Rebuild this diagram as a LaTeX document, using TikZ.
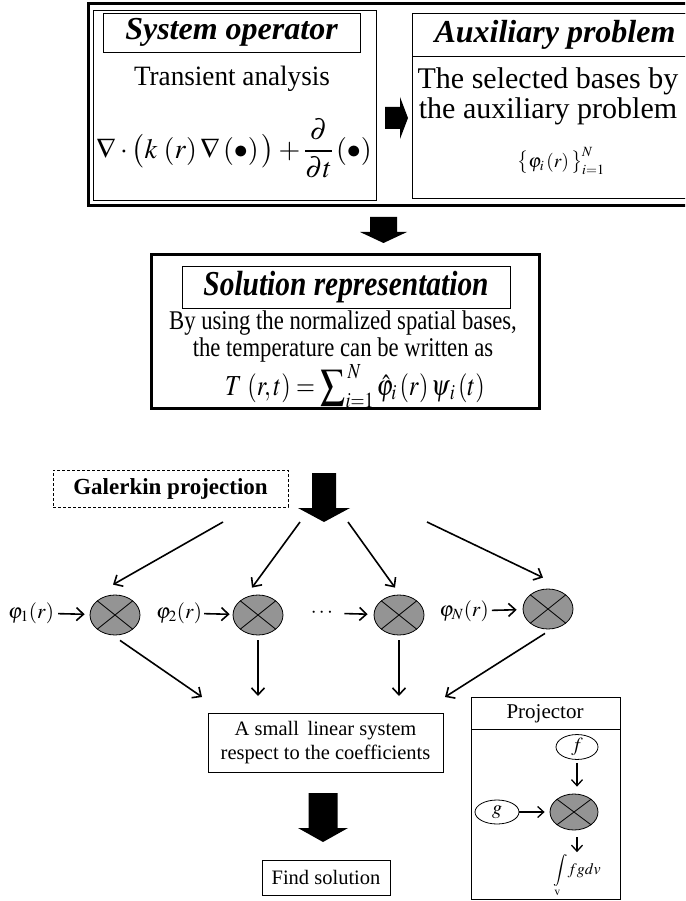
\documentclass[tikz,border=0pt]{standalone}
\usepackage{amsmath}
\usepackage{mathptmx}
\usepackage[no-math]{fontspec}
\setmainfont{Liberation Serif}
\usepackage{graphicx}
\usetikzlibrary{arrows.meta,shapes.geometric}

\definecolor{circfill}{RGB}{148,148,148}
% narrower setting used inside the solution box
\newcommand\hsq[1]{\scalebox{0.84}[1]{#1}}
\newcommand\fsz[2]{\fontsize{#1}{#2}\selectfont}

\begin{document}
\begin{tikzpicture}[x=1pt,y=-1pt,
  conn/.style={line width=1.6pt,-{Straight Barb[length=7pt,width=13pt]}},
  smallconn/.style={line width=1.3pt,-{Straight Barb[length=6pt,width=11pt]}},
  titlebox/.style={draw,line width=0.8pt,inner sep=0pt},
  plainbox/.style={draw,line width=0.9pt,inner sep=0pt,align=center},
  crossc/.style={ellipse,draw,line width=0.8pt,fill=circfill,
    minimum width=50pt,minimum height=40pt,inner sep=0pt,
    path picture={\draw[line width=0.8pt]
      (path picture bounding box.north west) -- (path picture bounding box.south east)
      (path picture bounding box.south west) -- (path picture bounding box.north east);}},
  oval/.style={ellipse,draw,line width=0.8pt,fill=white,inner sep=0pt},
  mlabel/.style={font=\fsz{21}{24},inner sep=0pt},
]
\useasboundingbox (0,0) rectangle (685,901);
\clip (0,0) rectangle (685,901);

% ---------------- top frame: operator and auxiliary problem ----------------
\draw[line width=3pt] (88.5,3.5) rectangle (720,205.5);

% system operator panel
\draw[line width=0.8pt] (93,10) rectangle (376,200);
\node[titlebox,minimum width=257pt,minimum height=39pt,
      font=\bfseries\itshape\fsz{32}{36}] (sotitle) at (231.5,32.5) {System operator};
\node[font=\fsz{28}{32},inner sep=0pt] (sotext) at (232,79) {\scalebox{0.97}[1]{Transient analysis}};
\node[font=\fsz{28}{32},inner sep=0pt] (soform) at (234,148)
  {$\nabla\cdot\big(k\,\left(r\right)\nabla\left(\bullet\right)\big)+\dfrac{\partial}{\partial t}\left(\bullet\right)$};

% block arrow to the right
\fill (385,107) -- (400,107) -- (400,97) -- (408,118) -- (400,139) -- (400,129) -- (385,129) -- cycle;

% auxiliary problem panel
\draw[line width=0.8pt] (412,13) rectangle (720,198);
\draw[line width=0.8pt] (412,13) rectangle (720,56);
\node[font=\bfseries\itshape\fsz{32}{36},inner sep=0pt] (auxtitle) at (555,35) {Auxiliary problem};
\node[font=\fsz{30}{30},align=center,inner sep=0pt] (auxtext) at (548,96)
  {The selected bases by\\the auxiliary problem};
\node[font=\fsz{19}{22},inner sep=0pt] (auxform) at (561,161)
  {$\big\{\varphi_i\left(r\right)\big\}_{i=1}^{N}$};

% block arrow down
\fill (370,217) -- (397,217) -- (397,232) -- (407,232) -- (383.5,243) -- (360,232) -- (370,232) -- cycle;

% ---------------- solution representation ----------------
\draw[line width=3pt] (151.5,254.5) rectangle (539.5,408.5);
\node[titlebox,minimum width=328pt,minimum height=42pt,
      font=\bfseries\itshape\fsz{35}{40}] (soltitle) at (346,287) {\hsq{Solution representation}};
\node[font=\fsz{27}{27},align=center,inner sep=0pt] (soltext) at (343,337)
  {\hsq{By using the normalized spatial bases,}\\\hsq{the temperature can be written as}};
\node[font=\fsz{29}{34},inner sep=0pt] (solform) at (355,386)
  {\hsq{$T\,\left(r,t\right)=\displaystyle\sum\nolimits_{i=1}^{\,N}\hat{\varphi}_i\left(r\right)\psi_{\,i}\left(t\right)$}};

% ---------------- Galerkin projection ----------------
\node[draw,dashed,dash pattern=on 3pt off 2pt,line width=0.7pt,minimum width=235pt,minimum height=37pt,
      inner sep=0pt,font=\bfseries\fsz{23}{26}] (galerkin) at (170.5,488.5) {Galerkin projection};
\fill (312,473) -- (336,473) -- (336,508) -- (350,508) -- (324,522) -- (298,508) -- (312,508) -- cycle;

\coordinate (g1) at (223,522);
\coordinate (g2) at (300,522);
\coordinate (g3) at (348,522);
\coordinate (g4) at (427,522);

\node[crossc] (c1) at (115,615) {};
\node[crossc] (c2) at (258,615) {};
\node[crossc] (c3) at (399,615) {};
\node[crossc] (c4) at (548,609) {};

\draw[conn] (g1) -- ([xshift=-2pt,yshift=10pt]c1.north);
\draw[conn] (g2) -- ([xshift=-6pt,yshift=7pt]c2.north);
\draw[conn] (g3) -- ([xshift=-4pt,yshift=7pt]c3.north);
\draw[conn] (g4) -- ([xshift=-5pt,yshift=11pt]c4.north);

\node[mlabel] (p1) at (31,613) {$\varphi_1(r)$};
\node[mlabel] (p2) at (179,613) {$\varphi_2(r)$};
\node[mlabel] (pd) at (323,613) {$\cdots$};
\node[mlabel] (pN) at (464,611) {$\varphi_N(r)$};
\draw[conn,shorten <=4pt,shorten >=5pt] (p1) -- (c1);
\draw[conn,shorten <=2pt,shorten >=3pt] (p2) -- (c2);
\draw[conn,shorten <=9pt,shorten >=6pt] (pd) -- (c3);
\draw[conn,shorten <=3pt,shorten >=6pt] (pN) -- (c4);

% ---------------- small linear system ----------------
\node[plainbox,minimum width=235pt,minimum height=59pt,font=\fsz{20.5}{24}] (lin) at (325.5,742.5)
  {A small\, linear system\\respect to the coefficients};
\coordinate (e1) at (202,697);
\coordinate (e2) at (258,696);
\coordinate (e3) at (399,696);
\coordinate (e4) at (445,697);
\draw[conn] ([xshift=5pt,yshift=-5pt]c1.south) -- (e1);
\draw[conn] ([yshift=-5pt]c2.south) -- (e2);
\draw[conn] ([yshift=-5pt]c3.south) -- (e3);
\draw[conn] ([xshift=-3pt,yshift=-4pt]c4.south) -- (e4);

\fill (308.5,793) -- (337.5,793) -- (337.5,828) -- (348,828) -- (323,842) -- (298,828) -- (308.5,828) -- cycle;

\node[plainbox,minimum width=128pt,minimum height=35pt,font=\fsz{20.5}{24}] (find) at (326,877.5) {Find solution};

% ---------------- projector ----------------
\draw[line width=0.9pt] (471,697) rectangle (620,899.5);
\draw[line width=0.9pt] (471,729) -- (620,729);
\node[font=\fsz{21}{24},inner sep=0pt] (projtitle) at (545,714) {Projector};
\node[oval,minimum width=42pt,minimum height=24pt,font=\fsz{20}{24}] (pf) at (577,747) {$f$};
\node[oval,minimum width=44pt,minimum height=24pt,font=\fsz{20}{24}] (pg) at (497,812) {$g$};
\node[crossc,minimum width=48pt,minimum height=36pt] (pc) at (574,812) {};
\node[font=\fsz{16}{20},inner sep=0pt] (pint) at (577,876) {$\displaystyle\int\limits_{\mathrm{v}}\! fgdv$};
\draw[smallconn,shorten <=3pt,shorten >=7pt] (pf.south) -- (pf.south |- pc.north);
\draw[smallconn,shorten >=5pt] (pg) -- (pc);
\draw[smallconn,shorten <=7pt,shorten >=2pt] (pf.south |- pc.south) -- (pf.south |- pint.north);
\end{tikzpicture}
\end{document}
